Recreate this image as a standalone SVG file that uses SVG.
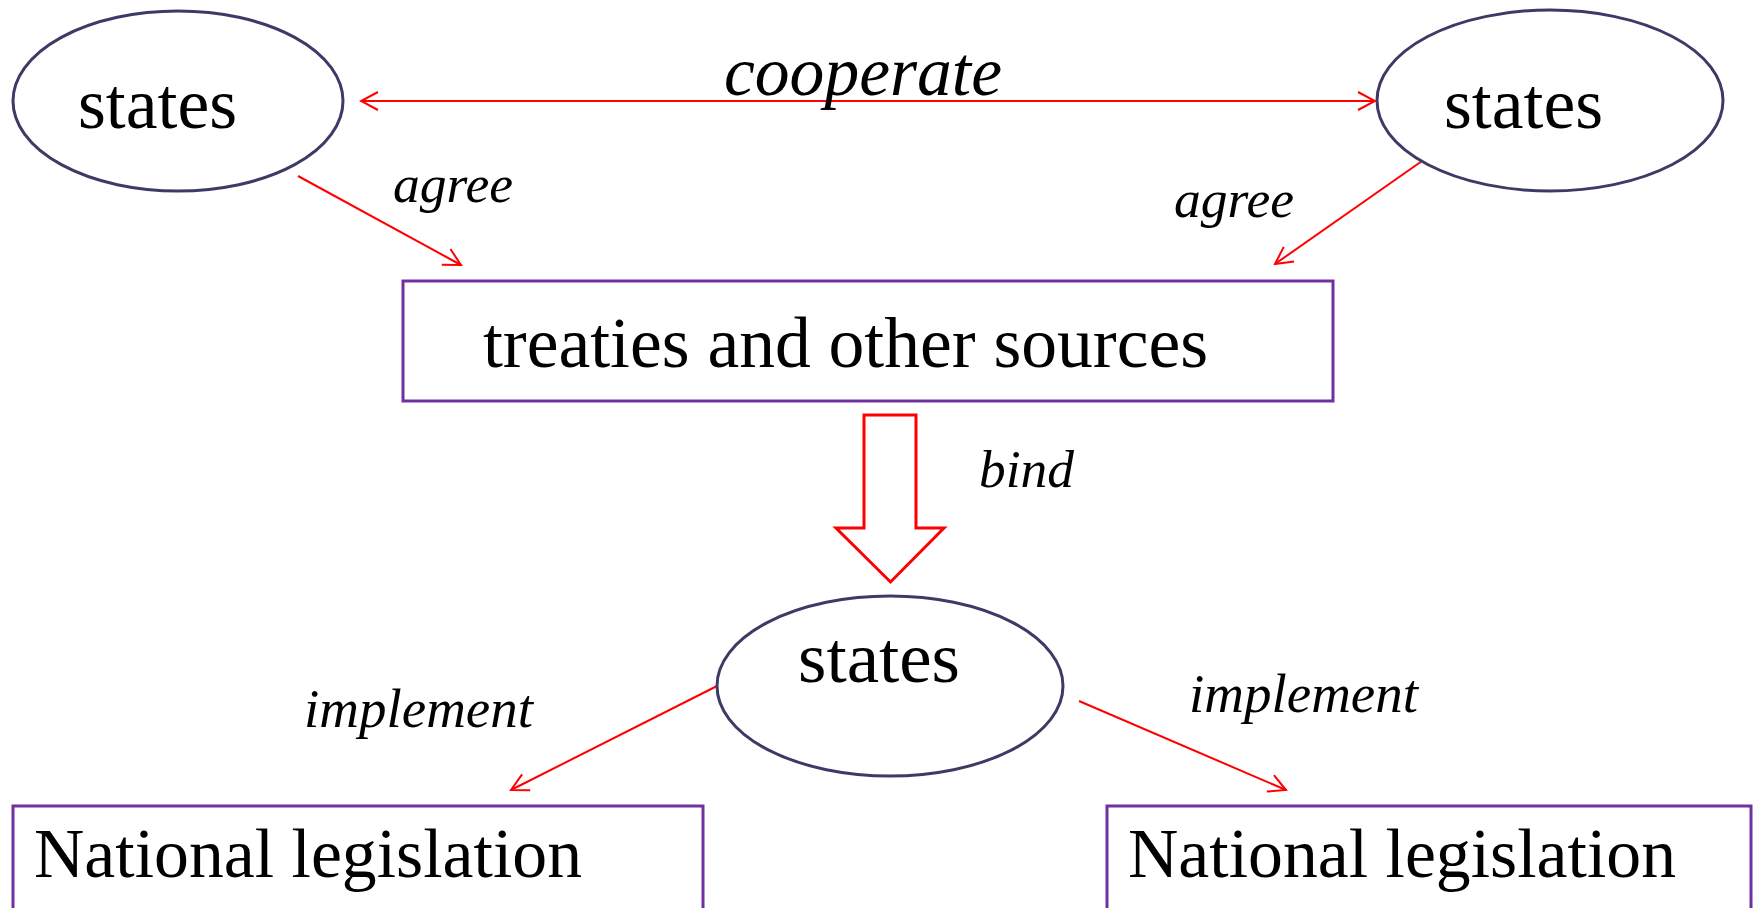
<svg xmlns="http://www.w3.org/2000/svg" width="1754" height="908" viewBox="0 0 1754 908">
<style>
.ell{fill:#fff;stroke:#3b3b66;stroke-width:3}
.box{fill:#fff;stroke:#7030a0;stroke-width:3}
.t{font-family:"Liberation Serif","Times New Roman",serif;fill:#000}
.i{font-family:"Liberation Serif","Times New Roman",serif;font-style:italic;fill:#000}
.ln{stroke:#ff0000;stroke-width:2;fill:none}
</style>
<defs>
<marker id="ah" markerUnits="userSpaceOnUse" viewBox="-20 -12 22 24" refX="0" refY="0" markerWidth="22" markerHeight="24" orient="auto-start-reverse">
<path d="M-17,-9 L0,0 L-17,9" fill="none" stroke="#ff0000" stroke-width="2"/>
</marker>
</defs>
<rect width="1754" height="908" fill="#fff"/>
<g id="connectors">
<line class="ln" x1="361" y1="101" x2="1375" y2="101" marker-start="url(#ah)" marker-end="url(#ah)"/>
<line class="ln" x1="298" y1="176" x2="461" y2="265" marker-end="url(#ah)"/>
<line class="ln" x1="1422" y1="161" x2="1275" y2="264" marker-end="url(#ah)"/>
<path d="M864,415 L916,415 L916,528 L944,528 L890.5,582 L836,528 L864,528 Z" fill="#fff" stroke="#ff0000" stroke-width="3"/>
<line class="ln" x1="717" y1="686" x2="511" y2="790" marker-end="url(#ah)"/>
<line class="ln" x1="1079" y1="701" x2="1286" y2="790" marker-end="url(#ah)"/>
<text class="i" x="724" y="95" font-size="70" textLength="278" lengthAdjust="spacingAndGlyphs">cooperate</text>
<text class="i" x="393" y="202" font-size="53" textLength="120" lengthAdjust="spacingAndGlyphs">agree</text>
<text class="i" x="1174" y="217" font-size="53" textLength="120" lengthAdjust="spacingAndGlyphs">agree</text>
<text class="i" x="979" y="487" font-size="53" textLength="95" lengthAdjust="spacingAndGlyphs">bind</text>
<text class="i" x="304" y="727" font-size="54" textLength="229" lengthAdjust="spacingAndGlyphs">implement</text>
<text class="i" x="1189" y="712" font-size="54" textLength="229" lengthAdjust="spacingAndGlyphs">implement</text>
</g>
<g id="states1">
<ellipse class="ell" cx="178" cy="101" rx="165" ry="90"/>
<text class="t" x="78" y="128" font-size="71.5" textLength="159" lengthAdjust="spacingAndGlyphs">states</text>
</g>
<g id="states2">
<ellipse class="ell" cx="1550" cy="100.5" rx="173" ry="90.5"/>
<text class="t" x="1444" y="128" font-size="71.5" textLength="159" lengthAdjust="spacingAndGlyphs">states</text>
</g>
<g id="treaties">
<rect class="box" x="403" y="281" width="930" height="120"/>
<text class="t" x="483" y="367" font-size="71.5" textLength="725" lengthAdjust="spacingAndGlyphs">treaties and other sources</text>
</g>
<g id="states3">
<ellipse class="ell" cx="890" cy="686" rx="173" ry="90"/>
<text class="t" x="798" y="682" font-size="71.5" textLength="162" lengthAdjust="spacingAndGlyphs">states</text>
</g>
<g id="national1">
<rect class="box" x="13" y="806" width="690" height="120"/>
<text class="t" x="34" y="877" font-size="70" textLength="548" lengthAdjust="spacingAndGlyphs">National legislation</text>
</g>
<g id="national2">
<rect class="box" x="1107" y="806" width="644" height="120"/>
<text class="t" x="1128" y="877" font-size="70" textLength="548" lengthAdjust="spacingAndGlyphs">National legislation</text>
</g>
</svg>
